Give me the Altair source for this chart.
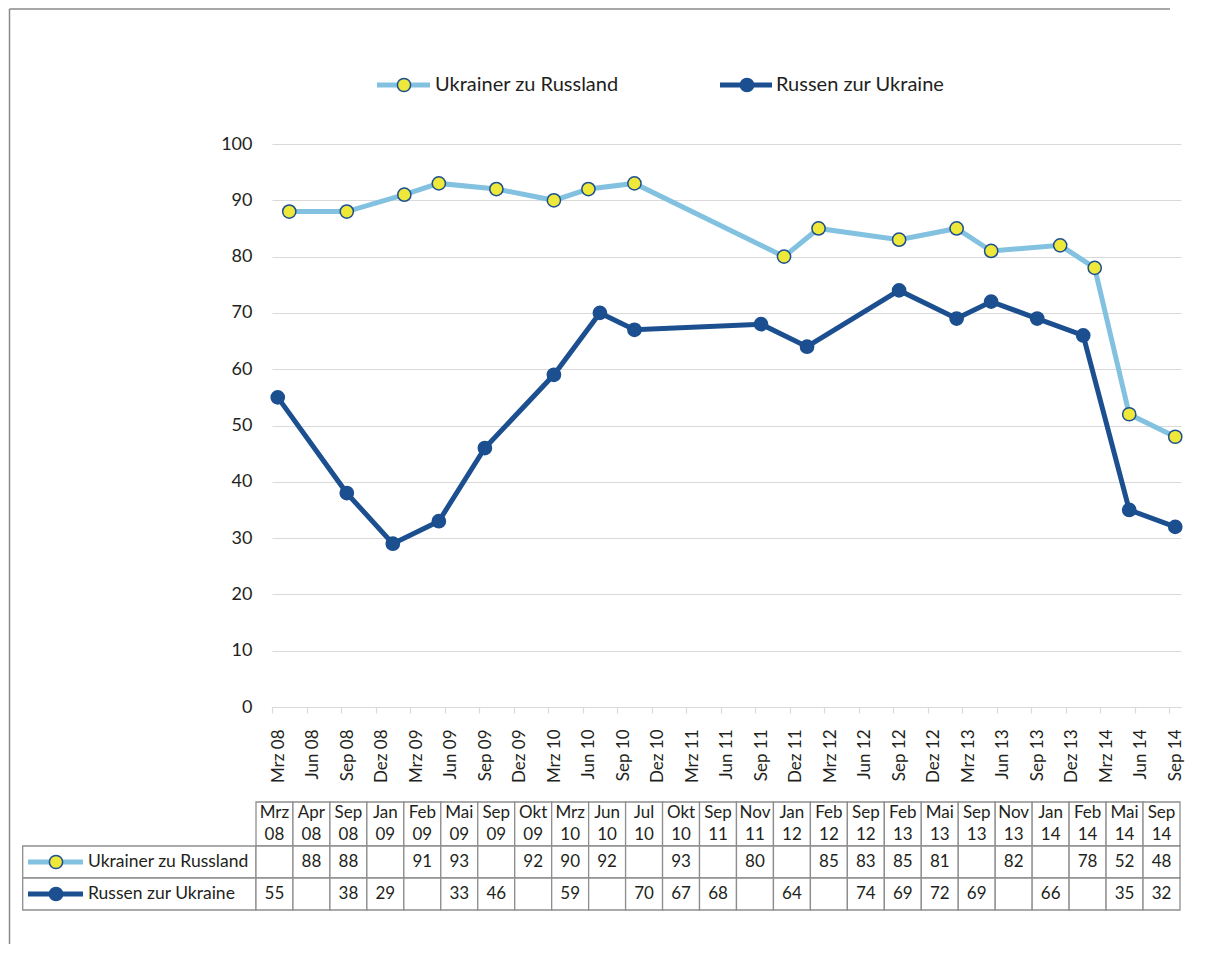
import json
import altair as alt
import pandas as pd

# ---------------- data ----------------
series_names = ["Ukrainer zu Russland", "Russen zur Ukraine"]
survey_dates = ["Mrz 08", "Apr 08", "Sep 08", "Jan 09", "Feb 09", "Mai 09", "Sep 09", "Okt 09",
                "Mrz 10", "Jun 10", "Jul 10", "Okt 10", "Sep 11", "Nov 11", "Jan 12", "Feb 12",
                "Sep 12", "Feb 13", "Mai 13", "Sep 13", "Nov 13", "Jan 14", "Feb 14", "Mai 14", "Sep 14"]
ukrainer_zu_russland = [None, 88, 88, None, 91, 93, None, 92, 90, 92, None, 93, None, 80, None, 85,
                        83, 85, 81, None, 82, None, 78, 52, 48]
russen_zur_ukraine = [55, None, 38, 29, None, 33, 46, None, 59, None, 70, 67, 68, None, 64, None,
                      74, 69, 72, 69, None, 66, None, 35, 32]
axis_labels = ["Mrz 08", "Jun 08", "Sep 08", "Dez 08", "Mrz 09", "Jun 09", "Sep 09", "Dez 09",
               "Mrz 10", "Jun 10", "Sep 10", "Dez 10", "Mrz 11", "Jun 11", "Sep 11", "Dez 11",
               "Mrz 12", "Jun 12", "Sep 12", "Dez 12", "Mrz 13", "Jun 13", "Sep 13", "Dez 13",
               "Mrz 14", "Jun 14", "Sep 14"]
y_ticks = [0, 10, 20, 30, 40, 50, 60, 70, 80, 90, 100]
month_numbers = {"Jan": 1, "Feb": 2, "Mrz": 3, "Apr": 4, "Mai": 5, "Jun": 6, "Jul": 7, "Aug": 8,
                 "Sep": 9, "Okt": 10, "Nov": 11, "Dez": 12}

# ---------------- styles / layout ----------------
FONT = "Lato"
TXT = "#231f20"
LIGHT = "#82c1df"
DARK = "#1c4f8f"
YELLOW = "#ede83a"
GRID = "#d9d9d9"
TBL = "#8e8e8e"

SVG_W, SVG_H = 1192, 936
PAD_L, PAD_T = 264, 136
W, H = 909, 563
PAD_R = SVG_W - PAD_L - W
PAD_B = SVG_H - PAD_T - H
X0, Y0 = 8 + PAD_L, 8 + PAD_T

COL_W, TBL_X0 = 36.96, 256.0
ROW_H, ROW1_Y, HEAD_H = 32.0, 846.0, 44.0
HEAD_LINE_H = 22.0


def kx(px):
    return (px - TBL_X0) / COL_W


def uy(py):
    return (py - ROW1_Y) / ROW_H


def month_index(label):
    mon, yy = label.split()
    return (2000 + int(yy) - 2008) * 12 + month_numbers[mon] - 3


COLOR = alt.Scale(domain=series_names, range=[LIGHT, DARK])
FILL = alt.Scale(domain=series_names, range=[YELLOW, DARK])
XS = alt.Scale(domain=[0, len(axis_labels) * 3 - 2], nice=False, zero=False)
YS = alt.Scale(domain=[0, 100], nice=False)
TX = alt.Scale(domain=[kx(X0), kx(X0 + W)], nice=False, zero=False)
TY = alt.Scale(domain=[uy(Y0), uy(Y0 + H)], reverse=True, nice=False, zero=False)

# ---------------- chart data ----------------
rows = []
for name, vals in zip(series_names, [ukrainer_zu_russland, russen_zur_ukraine]):
    for d, v in zip(survey_dates, vals):
        if v is not None:
            rows.append({"series": name, "date": d, "m": month_index(d) + 0.5, "value": v})
pts = pd.DataFrame(rows)

label_expr = json.dumps(axis_labels) + "[round(datum.value / 3)]"

x_enc = alt.X("m:Q", scale=XS, axis=alt.Axis(
    values=list(range(0, len(axis_labels) * 3, 3)), labelExpr=label_expr, labelAngle=270,
    labelOffset=6, labelPadding=16, tickSize=6, tickColor=GRID, domainColor=GRID,
    domainWidth=1.2, tickWidth=1.2, grid=False, labelFontSize=17, labelFont=FONT,
    labelColor=TXT, labelOverlap=False, labelFlush=False, title=None))
y_enc = alt.Y("value:Q", scale=YS, axis=alt.Axis(
    values=y_ticks, grid=True, gridColor=GRID, gridWidth=1.2, domain=False, ticks=False,
    labelPadding=20, labelFontSize=18, labelFont=FONT, labelColor=TXT, title=None))

lines = alt.Chart(pts).mark_line(strokeWidth=5, clip=False).encode(
    x=x_enc, y=y_enc,
    color=alt.Color("series:N", scale=COLOR, legend=None),
    detail="series:N", order="m:Q")

points = alt.Chart(pts).mark_point(filled=True, size=175, stroke=DARK, strokeWidth=1.5,
                                   opacity=1, clip=False).encode(
    x=alt.X("m:Q", scale=XS, axis=None),
    y=alt.Y("value:Q", scale=YS, axis=None),
    fill=alt.Fill("series:N", scale=FILL, legend=None))

# ---------------- table data ----------------
n_cols = len(survey_dates)
head = pd.DataFrame({"x": [k for k in range(n_cols)],
                     "x2": [k + 1 for k in range(n_cols)],
                     "y": -HEAD_H / ROW_H, "y2": 0.0,
                     "xc": [k + 0.5 for k in range(n_cols)],
                     "yc": (-HEAD_H / 2 - HEAD_LINE_H / 2) / ROW_H,
                     "text": [d.replace(" ", "\n") for d in survey_dates]})

cells = []
for r, vals in enumerate([ukrainer_zu_russland, russen_zur_ukraine]):
    cells.append({"x": kx(22.7), "x2": 0.0, "y": r, "y2": r + 1, "xc": 0, "yc": r + 0.5, "text": ""})
    for k, v in enumerate(vals):
        cells.append({"x": k, "x2": k + 1, "y": r, "y2": r + 1, "xc": k + 0.5, "yc": r + 0.5,
                      "text": "" if v is None else str(v)})
cells = pd.DataFrame(cells)

keys = pd.DataFrame({
    "series": series_names * 2,
    "x": [kx(28), kx(28), kx(377), kx(720)],
    "x2": [kx(83), kx(83), kx(430), kx(772)],
    "xc": [kx(56), kx(56), kx(404), kx(747)],
    "y": [0.5, 1.5, uy(85), uy(85)],
})
row_labels = pd.DataFrame({"x": [kx(88), kx(88)], "y": [0.5, 1.5], "text": series_names})
legend_labels = pd.DataFrame({"x": [kx(435), kx(776)], "y": [uy(85), uy(85)], "text": series_names})
# chart-area frame: left edge and top edge (top edge stops short of the picture's right side)
frame = pd.DataFrame({"x": [kx(9.5), kx(9.5)], "x2": [kx(8 + SVG_W - 30), kx(9.5)],
                      "y": [uy(9), uy(9)], "y2": [uy(9), uy(8 + SVG_H)]})


def tx(f):
    return alt.X(f, scale=TX, axis=None)


def ty(f):
    return alt.Y(f, scale=TY, axis=None)


frame_l = alt.Chart(frame).mark_rule(color="#8a8a8a", strokeWidth=1.5, clip=False).encode(
    x=tx("x:Q"), x2="x2:Q", y=ty("y:Q"), y2="y2:Q")

head_rect = alt.Chart(head).mark_rect(fill="white", stroke=TBL, strokeWidth=1.3, clip=False).encode(
    x=tx("x:Q"), x2="x2:Q", y=ty("y:Q"), y2="y2:Q")
cell_rect = alt.Chart(cells).mark_rect(fill="white", stroke=TBL, strokeWidth=1.3, clip=False).encode(
    x=tx("x:Q"), x2="x2:Q", y=ty("y:Q"), y2="y2:Q")
head_text = alt.Chart(head).mark_text(lineBreak="\n", lineHeight=HEAD_LINE_H, fontSize=17,
                                      font=FONT, color=TXT, baseline="middle", align="center",
                                      clip=False).encode(
    x=tx("xc:Q"), y=ty("yc:Q"), text="text:N")
cell_text = alt.Chart(cells).mark_text(fontSize=17, font=FONT, color=TXT, baseline="middle",
                                       align="center", clip=False).encode(
    x=tx("xc:Q"), y=ty("yc:Q"), text="text:N")
key_lines = alt.Chart(keys).mark_rule(strokeWidth=5, clip=False).encode(
    x=tx("x:Q"), x2="x2:Q", y=ty("y:Q"),
    color=alt.Color("series:N", scale=COLOR, legend=None))
key_pts = alt.Chart(keys).mark_point(filled=True, size=175, stroke=DARK, strokeWidth=1.5,
                                     opacity=1, clip=False).encode(
    x=tx("xc:Q"), y=ty("y:Q"),
    fill=alt.Fill("series:N", scale=FILL, legend=None))
row_text = alt.Chart(row_labels).mark_text(fontSize=17.5, font=FONT, color=TXT, baseline="middle",
                                           align="left", clip=False).encode(
    x=tx("x:Q"), y=ty("y:Q"), text="text:N")
legend_text = alt.Chart(legend_labels).mark_text(fontSize=20, font=FONT, color=TXT,
                                                 baseline="middle", align="left",
                                                 clip=False).encode(
    x=tx("x:Q"), y=ty("y:Q"), text="text:N")

chart = alt.layer(
    frame_l, lines, points, head_rect, cell_rect, head_text, cell_text,
    key_lines, key_pts, row_text, legend_text
).resolve_scale(
    x="independent", y="independent"
).properties(
    width=W, height=H,
    padding={"left": PAD_L, "top": PAD_T, "right": PAD_R, "bottom": PAD_B},
    autosize=alt.AutoSizeParams(type="none"),
    background="white",
).configure_view(stroke=None)

chart.save("out.html", embed_options={"renderer": "svg", "actions": False})
